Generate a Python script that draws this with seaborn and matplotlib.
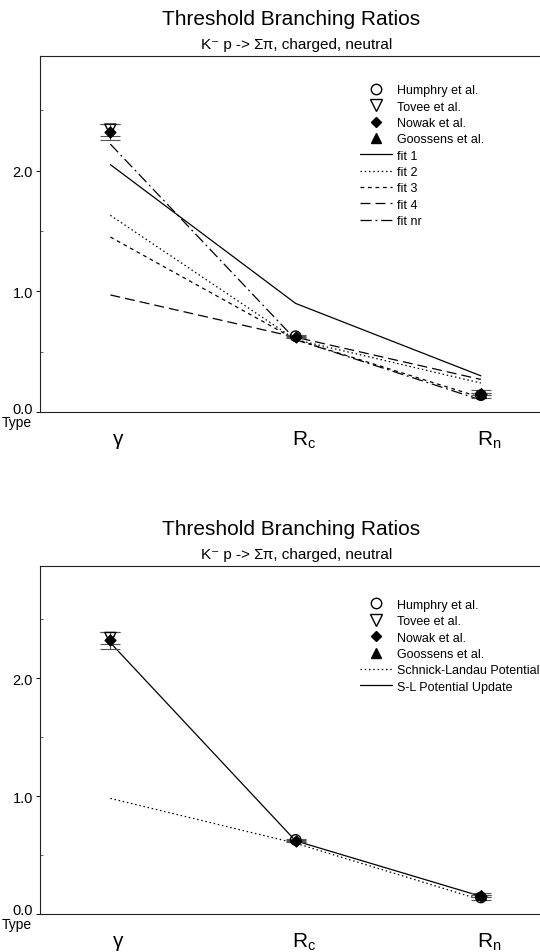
import numpy as np
import pandas as pd
import matplotlib
matplotlib.use("Agg")
import matplotlib.pyplot as plt
import seaborn as sns
from matplotlib.transforms import ScaledTranslation
from matplotlib.lines import Line2D

# ---- data -------------------------------------------------------------
categories = ["gamma", "Rc", "Rn"]
tick_labels = ["γ", r"R$_\mathrm{c}$", r"R$_\mathrm{n}$"]
cat_pos = [0, 1, 2]

# experimental points: (category index, value, error)
humphry_x = [1, 2]
humphry_y = [0.628, 0.14]
humphry_err = [0.01, 0.02]

tovee_x = [0]
tovee_y = [2.34]
tovee_err = [0.05]

nowak_x = [0, 1, 2]
nowak_y = [2.32, 0.62, 0.15]
nowak_err = [0.07, 0.01, 0.01]

goossens_x = [2]
goossens_y = [0.16]
goossens_err = [0.02]

# model curves (upper panel)
fit1 = [2.05, 0.90, 0.30]
fit2 = [1.63, 0.60, 0.24]
fit3 = [1.45, 0.60, 0.12]
fit4 = [0.97, 0.62, 0.27]
fit_nr = [2.22, 0.60, 0.10]

# model curves (lower panel)
schnick_landau = [0.98, 0.60, 0.12]
sl_update = [2.30, 0.62, 0.15]

# ---- style ------------------------------------------------------------
sns.set_theme(style="white")
plt.rcParams["font.family"] = ["Liberation Sans", "DejaVu Sans"]
plt.rcParams["mathtext.fontset"] = "custom"
plt.rcParams["mathtext.rm"] = "Liberation Sans"
plt.rcParams["mathtext.it"] = "Liberation Sans:italic"
plt.rcParams["mathtext.cal"] = "Liberation Sans"
for key in ["text.color", "axes.labelcolor", "xtick.color", "ytick.color",
            "xtick.labelcolor", "ytick.labelcolor"]:
    plt.rcParams[key] = "black"

fig = plt.figure(figsize=(5.4, 9.53), dpi=100)
ax_top = fig.add_axes([0.074, 0.5666, 0.94, 0.3736])
ax_bot = fig.add_axes([0.074, 0.0399, 0.94, 0.3651])


def draw_points(ax):
    sets = [
        (humphry_x, humphry_y, humphry_err, "o", "none", "Humphry et al.", 7.5),
        (tovee_x, tovee_y, tovee_err, "v", "none", "Tovee et al.", 8),
        (nowak_x, nowak_y, nowak_err, "D", "black", "Nowak et al.", 5.5),
        (goossens_x, goossens_y, goossens_err, "^", "black", "Goossens et al.", 7),
    ]
    handles = []
    for xs, ys, es, m, fc, lab, ms in sets:
        ax.errorbar(xs, ys, yerr=es, fmt="none", ecolor="#555555",
                    elinewidth=0.8, capsize=7, capthick=0.8, zorder=3)
        sns.scatterplot(x=xs, y=ys, ax=ax, marker=m, s=ms ** 2,
                        facecolor=fc, edgecolor="black", linewidth=1.0,
                        zorder=4, legend=False)
        handles.append(Line2D([], [], linestyle="none", marker=m,
                              markersize=ms, markerfacecolor=fc,
                              markeredgecolor="black", label=lab))
    return handles


def draw_curve(ax, vals, ls, lab):
    df = pd.DataFrame({"pos": cat_pos, "val": vals})
    sns.lineplot(data=df, x="pos", y="val", ax=ax, color="black",
                 linewidth=0.9, linestyle=ls, zorder=2)
    return Line2D([], [], color="black", linewidth=0.9, linestyle=ls,
                  label=lab)


def style_axes(ax):
    ax.set_xlim(-0.38, 2.36)
    ax.set_ylim(0, 2.95)
    ax.set_xticks(cat_pos)
    ax.set_xticklabels(tick_labels, fontsize=15)
    ax.set_yticks([0.0, 1.0, 2.0])
    ax.set_yticklabels(["0.0", "1.0", "2.0"], fontsize=10.5)
    ax.set_yticks([0.5, 1.5, 2.5], minor=True)
    ax.tick_params(axis="x", length=0, pad=12)
    ax.tick_params(axis="y", which="major", length=3, width=0.7,
                   direction="out", color="black", pad=2, left=True)
    ax.tick_params(axis="y", which="minor", length=2, width=0.6,
                   direction="in", color="#444444", left=True)
    for lbl in ax.get_xticklabels():
        lbl.set_transform(lbl.get_transform() +
                          ScaledTranslation(0.08, 0, fig.dpi_scale_trans))
    # lift the zero label so it sits above the "Type" caption
    zero = ax.get_yticklabels()[0]
    zero.set_transform(zero.get_transform() +
                       ScaledTranslation(0, 0.05, fig.dpi_scale_trans))
    ax.spines["right"].set_visible(False)
    for s in ["left", "top", "bottom"]:
        ax.spines[s].set_color("#222222")
        ax.spines[s].set_linewidth(0.8)
    ax.set_xlabel("")
    ax.set_ylabel("")
    ax.text(-0.045, -0.008, "Type", transform=ax.transAxes, fontsize=10,
            ha="center", va="top")
    bb = ax.get_position()
    cx = (bb.x0 + bb.x1) / 2 - 0.005
    fig.text(cx, bb.y1 + 0.039, "Threshold Branching Ratios", fontsize=15,
             ha="center", va="center")
    fig.text(cx + 0.01, bb.y1 + 0.013, "K⁻ p -> Σπ, charged, neutral",
             fontsize=11, ha="center", va="center")


legend_kw = dict(loc="upper left", frameon=False, fontsize=9,
                 handlelength=2.6, handletextpad=0.35, labelspacing=0.35,
                 borderaxespad=0)

# upper panel
h_top = draw_points(ax_top)
h_top.append(draw_curve(ax_top, fit1, "-", "fit 1"))
h_top.append(draw_curve(ax_top, fit2, (0, (1.2, 2.2)), "fit 2"))
h_top.append(draw_curve(ax_top, fit3, (0, (3, 3)), "fit 3"))
h_top.append(draw_curve(ax_top, fit4, (0, (8, 4)), "fit 4"))
h_top.append(draw_curve(ax_top, fit_nr, (0, (9, 3, 1.5, 3)), "fit nr"))
style_axes(ax_top)
ax_top.legend(handles=h_top, bbox_to_anchor=(0.62, 0.935), **legend_kw)

# lower panel
h_bot = draw_points(ax_bot)
h_bot.append(draw_curve(ax_bot, schnick_landau, (0, (1.2, 2.2)),
                        "Schnick-Landau Potential"))
h_bot.append(draw_curve(ax_bot, sl_update, "-", "S-L Potential Update"))
style_axes(ax_bot)
ax_bot.legend(handles=h_bot, bbox_to_anchor=(0.62, 0.92), **legend_kw)

fig.savefig("out.png", dpi=100)
